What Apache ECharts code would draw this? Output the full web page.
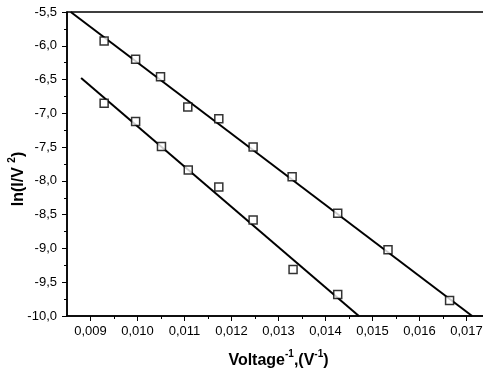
<!DOCTYPE html>
<html>
<head>
<meta charset="utf-8">
<script src="https://cdn.jsdelivr.net/npm/echarts@6/dist/echarts.min.js"></script>
<style>
html,body{margin:0;padding:0;background:#fff;}
#chart{width:483px;height:368px;}
</style>
</head>
<body>
<div id="chart"></div>
<script>
// Upper data set
const upperX = [0.00929, 0.00996, 0.01049, 0.01107, 0.01173, 0.01246, 0.01329, 0.01426, 0.01533, 0.01664];
const upperY = [-5.93, -6.20, -6.46, -6.905, -7.08, -7.50, -7.94, -8.48, -9.02, -9.77];
// Lower data set
const lowerX = [0.00929, 0.00996, 0.01051, 0.01108, 0.01173, 0.01246, 0.01331, 0.01426];
const lowerY = [-6.85, -7.12, -7.49, -7.84, -8.09, -8.58, -9.31, -9.68];
// Linear fits (end points)
const upperFitX = [0.00858, 0.01712];
const upperFitY = [-5.5, -10.0];
const lowerFitX = [0.00880, 0.01471];
const lowerFitY = [-6.476, -10.0];
// Ticks
const xTicks = [0.009, 0.010, 0.011, 0.012, 0.013, 0.014, 0.015, 0.016, 0.017];
const xMinorTicks = [0.0095, 0.0105, 0.0115, 0.0125, 0.0135, 0.0145, 0.0155, 0.0165, 0.0175];
const yTicks = [-10.0, -9.5, -9.0, -8.5, -8.0, -7.5, -7.0, -6.5, -6.0, -5.5];
const yMinorTicks = [-9.75, -9.25, -8.75, -8.25, -7.75, -7.25, -6.75, -6.25, -5.75];

const zip = (xs, ys) => xs.map((x, i) => [x, ys[i]]);
const FONT = '"Liberation Sans", Arial, sans-serif';

const chart = echarts.init(document.getElementById('chart'), null, {renderer: 'canvas'});
const xFmt = v => v.toFixed(3).replace('.', ',');
const yFmt = v => v.toFixed(1).replace('.', ',');

const richName = {
  m: {fontSize: 16, fontWeight: 'bold', fontFamily: FONT, color: '#000', verticalAlign: 'bottom', padding: [4, 0, 0, 0]},
  s: {fontSize: 10, fontWeight: 'bold', fontFamily: FONT, color: '#000', verticalAlign: 'top'}
};

chart.setOption({
  animation: false,
  backgroundColor: '#fff',
  grid: {left: 67, top: 12, right: -7, bottom: 52, containLabel: false, outerBoundsMode: 'none',
         show: true, borderColor: '#000', borderWidth: 1.5, backgroundColor: 'transparent'},
  xAxis: [{
    type: 'value', min: 0.0085, max: 0.0175,
    axisLine: {show: true, onZero: false, lineStyle: {color: '#000', width: 1.5}},
    axisTick: {show: true, length: 5, customValues: xTicks, lineStyle: {color: '#000', width: 1}},
    axisLabel: {customValues: xTicks, formatter: xFmt, color: '#000', fontSize: 13, fontFamily: FONT, margin: 9},
    splitLine: {show: false},
    name: '{m|Voltage}{s|-1}{m|,(V}{s|-1}{m|)}',
    nameLocation: 'middle', nameGap: 33, nameMoveOverlap: false,
    nameTextStyle: {color: '#000', rich: richName}
  }, {
    type: 'value', min: 0.0085, max: 0.0175, position: 'bottom',
    axisLine: {show: false},
    axisTick: {show: true, length: 3, customValues: xMinorTicks, lineStyle: {color: '#000', width: 1}},
    axisLabel: {show: false},
    splitLine: {show: false}
  }],
  yAxis: [{
    type: 'value', min: -10, max: -5.5,
    axisLine: {show: true, onZero: false, lineStyle: {color: '#000', width: 1.5}},
    axisTick: {show: true, length: 5, customValues: yTicks, lineStyle: {color: '#000', width: 1}},
    axisLabel: {customValues: yTicks, formatter: yFmt, color: '#000', fontSize: 13, fontFamily: FONT, margin: 10},
    splitLine: {show: false},
    name: '{m|ln(I/V }{s|2}{m|)}',
    nameLocation: 'middle', nameGap: 40, nameRotate: 90, nameMoveOverlap: false,
    nameTextStyle: {color: '#000', rich: richName, padding: [0, 30, 0, 0]}
  }, {
    type: 'value', min: -10, max: -5.5, position: 'left',
    axisLine: {show: false},
    axisTick: {show: true, length: 3, customValues: yMinorTicks, lineStyle: {color: '#000', width: 1}},
    axisLabel: {show: false},
    splitLine: {show: false}
  }],
  series: [
    {type: 'line', data: zip(upperFitX, upperFitY), symbol: 'none', lineStyle: {color: '#000', width: 2}, z: 2},
    {type: 'line', data: zip(lowerFitX, lowerFitY), symbol: 'none', lineStyle: {color: '#000', width: 2}, z: 2},
    {type: 'scatter', data: zip(upperX, upperY), symbol: 'rect', symbolSize: 8,
     itemStyle: {color: '#fff', borderColor: '#000', borderWidth: 1.5}, z: 3},
    {type: 'scatter', data: zip(lowerX, lowerY), symbol: 'rect', symbolSize: 8,
     itemStyle: {color: '#fff', borderColor: '#000', borderWidth: 1.5}, z: 3}
  ]
});
</script>
</body>
</html>
